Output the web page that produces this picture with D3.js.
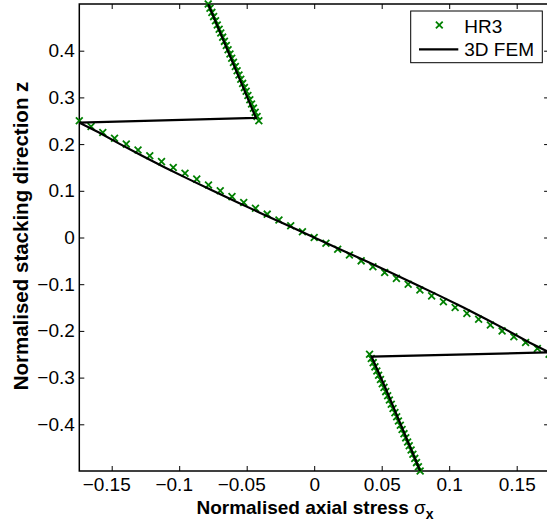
<!DOCTYPE html>
<html>
<head>
<meta charset="utf-8">
<script src="https://cdn.jsdelivr.net/npm/d3@7"></script>
<style>
  html, body { margin: 0; padding: 0; background: #fff; overflow: hidden; }
  svg { display: block; }
  text { font-family: "Liberation Sans", Arial, Helvetica, sans-serif; fill: #000; }
</style>
</head>
<body>
<div id="chart"></div>
<script>
// ---------------- data ----------------
// HR3 (markers): top layer, middle layer, bottom layer
const hr3TopZ = [0.250, 0.259, 0.268, 0.277, 0.286, 0.295, 0.304, 0.313, 0.321, 0.330,
                 0.339, 0.348, 0.357, 0.366, 0.375, 0.384, 0.393, 0.402, 0.411, 0.420,
                 0.429, 0.438, 0.446, 0.455, 0.464, 0.473, 0.482, 0.491, 0.500];
const hr3TopX = [-0.0410, -0.0423, -0.0437, -0.0450, -0.0464, -0.0477, -0.0491, -0.0504, -0.0517, -0.0530,
                 -0.0544, -0.0557, -0.0571, -0.0584, -0.0598, -0.0611, -0.0624, -0.0638, -0.0651, -0.0665,
                 -0.0678, -0.0692, -0.0704, -0.0718, -0.0731, -0.0745, -0.0758, -0.0772, -0.0785];

const hr3MidZ = [0.2500, 0.2375, 0.2250, 0.2125, 0.2000, 0.1875, 0.1750, 0.1625, 0.1500, 0.1375,
                 0.1250, 0.1125, 0.1000, 0.0875, 0.0750, 0.0625, 0.0500, 0.0375, 0.0250, 0.0125,
                 0.0000, -0.0125, -0.0250, -0.0375, -0.0500, -0.0625, -0.0750, -0.0875, -0.1000, -0.1125,
                 -0.1250, -0.1375, -0.1500, -0.1625, -0.1750, -0.1875, -0.2000, -0.2125, -0.2250, -0.2375,
                 -0.2500];
const hr3MidX = [-0.1740, -0.1653, -0.1566, -0.1479, -0.1392, -0.1305, -0.1218, -0.1131, -0.1044, -0.0957,
                 -0.0870, -0.0783, -0.0696, -0.0609, -0.0522, -0.0435, -0.0348, -0.0261, -0.0174, -0.0087,
                 0.0000, 0.0087, 0.0174, 0.0261, 0.0348, 0.0435, 0.0522, 0.0609, 0.0696, 0.0783,
                 0.0870, 0.0957, 0.1044, 0.1131, 0.1218, 0.1305, 0.1392, 0.1479, 0.1566, 0.1653,
                 0.1740];

const hr3BotZ = [-0.250, -0.259, -0.268, -0.277, -0.286, -0.295, -0.304, -0.313, -0.321, -0.330,
                 -0.339, -0.348, -0.357, -0.366, -0.375, -0.384, -0.393, -0.402, -0.411, -0.420,
                 -0.429, -0.438, -0.446, -0.455, -0.464, -0.473, -0.482, -0.491, -0.500];
const hr3BotX = [0.0410, 0.0423, 0.0437, 0.0450, 0.0464, 0.0477, 0.0491, 0.0504, 0.0517, 0.0530,
                 0.0544, 0.0557, 0.0571, 0.0584, 0.0598, 0.0611, 0.0624, 0.0638, 0.0651, 0.0665,
                 0.0678, 0.0692, 0.0704, 0.0718, 0.0731, 0.0745, 0.0758, 0.0772, 0.0785];

// 3D FEM (solid line), one continuous path through the thickness
const femZ = [0.500, 0.444, 0.384, 0.324, 0.256,
              0.246, 0.225, 0.200, 0.175, 0.150, 0.125, 0.100, 0.075, 0.050, 0.025, 0.000,
              -0.025, -0.050, -0.075, -0.100, -0.125, -0.150, -0.175, -0.200, -0.225, -0.246,
              -0.255, -0.324, -0.384, -0.444, -0.500];
const femX = [-0.0785, -0.0704, -0.0617, -0.0530, -0.0432,
              -0.1740, -0.1594, -0.1438, -0.1275, -0.1106, -0.0930, -0.0750, -0.0566, -0.0379, -0.0190, 0.0000,
              0.0190, 0.0379, 0.0566, 0.0750, 0.0930, 0.1106, 0.1275, 0.1438, 0.1594, 0.1740,
              0.0425, 0.0530, 0.0617, 0.0704, 0.0785];

const xTickValues = [-0.15, -0.1, -0.05, 0, 0.05, 0.1, 0.15];
const xTickLabels = ["\u22120.15", "\u22120.1", "\u22120.05", "0", "0.05", "0.1", "0.15"];
const yTickValues = [-0.4, -0.3, -0.2, -0.1, 0, 0.1, 0.2, 0.3, 0.4];
const yTickLabels = ["\u22120.4", "\u22120.3", "\u22120.2", "\u22120.1", "0", "0.1", "0.2", "0.3", "0.4"];
const seriesNames = ["HR3", "3D FEM"];

// ---------------- layout ----------------
const W = 547, H = 528;
const pL = 79.3, pR = 549.1, pT = 4, pB = 471;
const green = "#008000";

const svg = d3.select("#chart").append("svg").attr("width", W).attr("height", H);

const x = d3.scaleLinear().domain([-0.174, 0.174]).range([pL, pR]);
const y = d3.scaleLinear().domain([-0.5, 0.5]).range([pB, pT]);

svg.append("defs").append("clipPath").attr("id", "clip")
  .append("rect").attr("x", pL).attr("y", pT).attr("width", pR - pL).attr("height", pB - pT);

// axes (ticks inward)
const fontSize = 19;
const xAxisB = svg.append("g").attr("transform", `translate(0,${pB})`)
  .call(d3.axisBottom(x).tickValues(xTickValues).tickFormat((d, i) => xTickLabels[i])
    .tickSize(-5).tickSizeOuter(0).tickPadding(7));
const xAxisT = svg.append("g").attr("transform", `translate(0,${pT})`)
  .call(d3.axisTop(x).tickValues(xTickValues).tickFormat("").tickSize(-5).tickSizeOuter(0));
const yAxisL = svg.append("g").attr("transform", `translate(${pL},0)`)
  .call(d3.axisLeft(y).tickValues(yTickValues).tickFormat((d, i) => yTickLabels[i])
    .tickSize(-5).tickSizeOuter(0).tickPadding(4.5));
const yAxisR = svg.append("g").attr("transform", `translate(${pR},0)`)
  .call(d3.axisRight(y).tickValues(yTickValues).tickFormat("").tickSize(-5).tickSizeOuter(0));

[xAxisB, xAxisT, yAxisL, yAxisR].forEach(g => {
  g.select(".domain").remove();
  g.selectAll(".tick line").attr("stroke", "#000").attr("stroke-width", 1);
  g.selectAll("text").attr("font-size", fontSize)
    .attr("font-family", '"Liberation Sans", Arial, sans-serif').attr("fill", "#000");
});
// negative x labels: number part centred on the tick, minus sign hangs to the left
xAxisB.selectAll(".tick text").attr("dx", d => d < 0 ? -5.5 : 0);

// frame
svg.append("rect").attr("x", pL).attr("y", pT).attr("width", pR - pL).attr("height", pB - pT)
  .attr("fill", "none").attr("stroke", "#000").attr("stroke-width", 1.5);

// HR3 markers
const hr3 = [];
hr3TopX.forEach((v, i) => hr3.push([v, hr3TopZ[i]]));
hr3MidX.forEach((v, i) => hr3.push([v, hr3MidZ[i]]));
hr3BotX.forEach((v, i) => hr3.push([v, hr3BotZ[i]]));
const ms = 3.4;
const crossPath = `M${-ms},${-ms}L${ms},${ms}M${-ms},${ms}L${ms},${-ms}`;
svg.append("g").selectAll("path").data(hr3).join("path")
  .attr("transform", d => `translate(${x(d[0])},${y(d[1])})`)
  .attr("d", crossPath).attr("stroke", green).attr("stroke-width", 1.8).attr("fill", "none");

// FEM line
const fem = femX.map((v, i) => [v, femZ[i]]);
svg.append("path").datum(fem)
  .attr("clip-path", "url(#clip)")
  .attr("d", d3.line().x(d => x(d[0])).y(d => y(d[1])))
  .attr("fill", "none").attr("stroke", "#000").attr("stroke-width", 2.2).attr("stroke-linejoin", "miter");

// legend
const lg = svg.append("g");
lg.append("rect").attr("x", 410.7).attr("y", 11).attr("width", 131.6).attr("height", 51.7)
  .attr("fill", "#fff").attr("stroke", "#000").attr("stroke-width", 1);
lg.append("path").attr("transform", "translate(439.3,25)").attr("d", crossPath)
  .attr("stroke", green).attr("stroke-width", 1.8).attr("fill", "none");
lg.append("line").attr("x1", 419).attr("x2", 458.3).attr("y1", 49.3).attr("y2", 49.3)
  .attr("stroke", "#000").attr("stroke-width", 2.2);
lg.append("text").attr("x", 464.3).attr("y", 32.7).attr("font-size", fontSize).text(seriesNames[0]);
lg.append("text").attr("x", 464.3).attr("y", 56).attr("font-size", fontSize).text(seriesNames[1]);

// axis labels
const xl = svg.append("text").attr("x", 315).attr("y", 514).attr("text-anchor", "middle")
  .attr("font-size", fontSize).attr("font-weight", "bold");
xl.append("tspan").text("Normalised axial stress ");
xl.append("tspan").attr("font-weight", "normal").text("\u03c3");
xl.append("tspan").attr("font-size", 14).attr("dy", 5).text("x");

svg.append("text").attr("transform", "translate(28,236) rotate(-90)").attr("text-anchor", "middle")
  .attr("font-size", 20.5).attr("font-weight", "bold").text("Normalised stacking direction z");
</script>
</body>
</html>
